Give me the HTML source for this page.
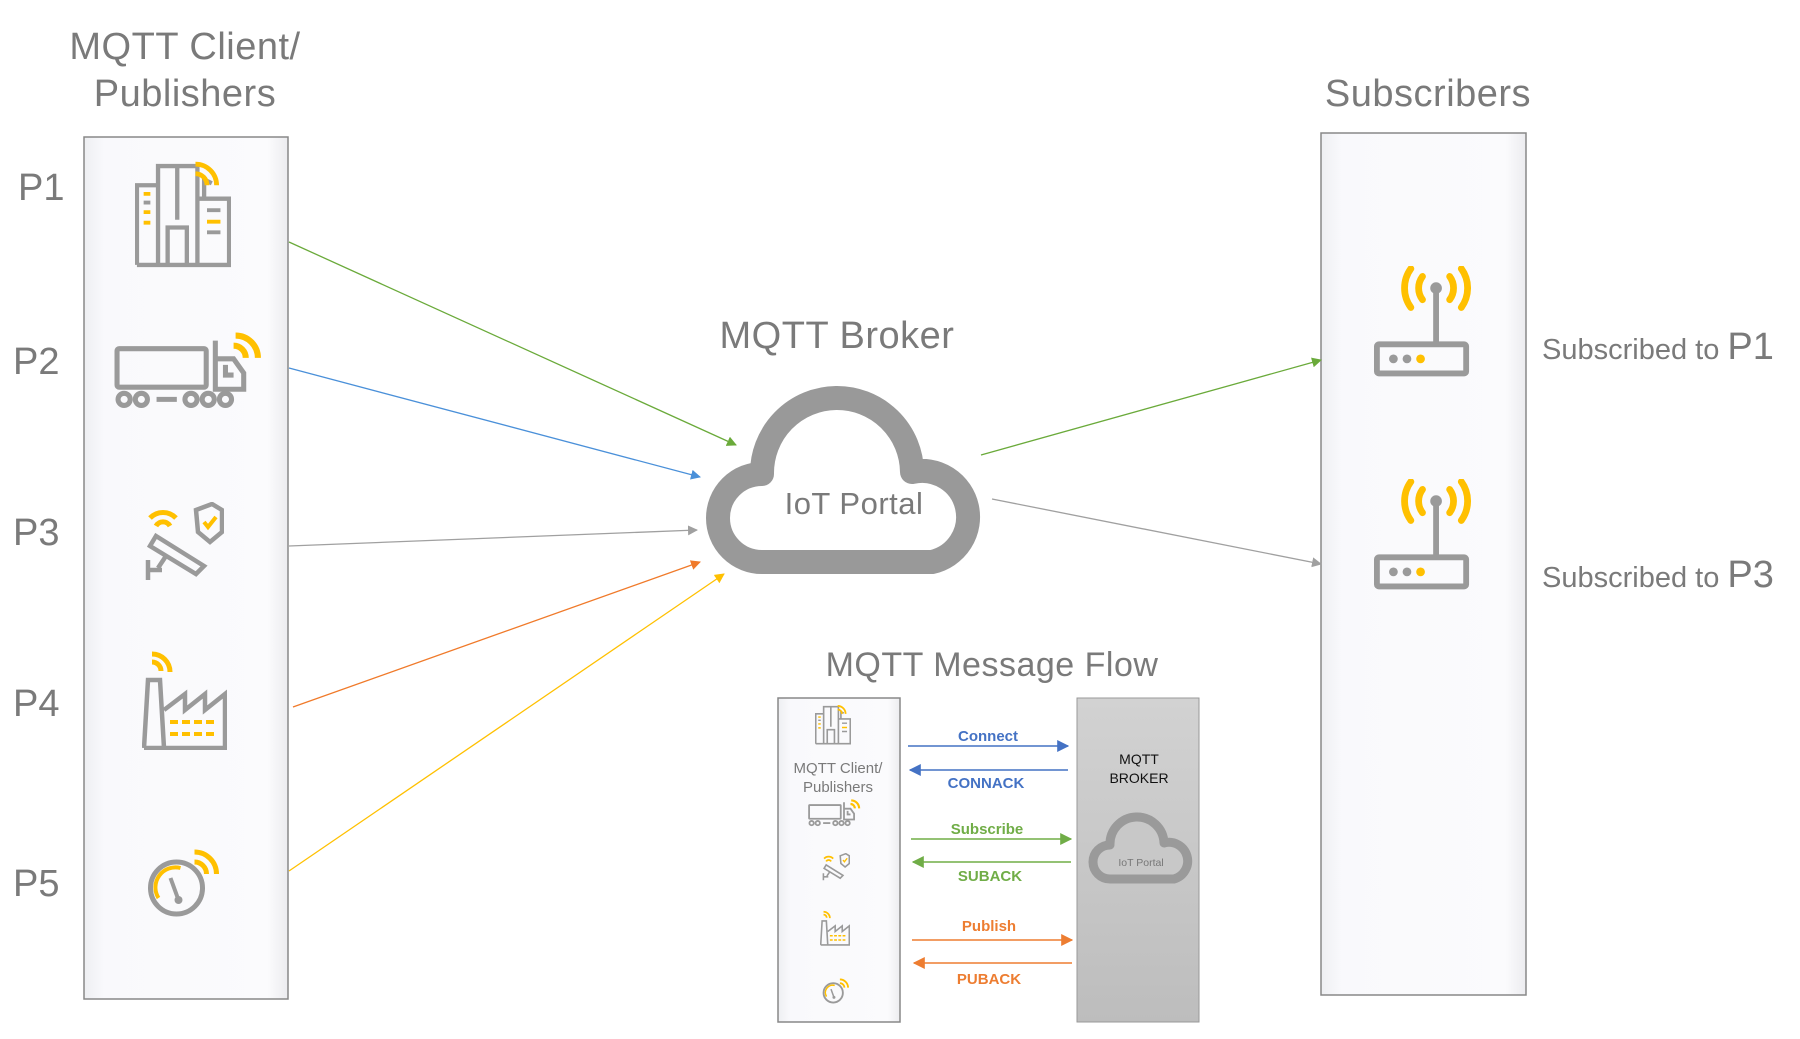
<!DOCTYPE html>
<html><head><meta charset="utf-8"><style>
body{margin:0;background:#fff;}
svg{display:block;font-family:"Liberation Sans",sans-serif;}
</style></head><body>
<svg width="1800" height="1039" viewBox="0 0 1800 1039" xmlns="http://www.w3.org/2000/svg">
<defs>
<linearGradient id="bg" x1="0" x2="1"><stop offset="0" stop-color="#eeeff2"/><stop offset="0.1" stop-color="#f9f9fc"/><stop offset="0.9" stop-color="#fbfbfd"/><stop offset="1" stop-color="#ececef"/></linearGradient>
<linearGradient id="gb" x1="0" y1="0" x2="0" y2="1"><stop offset="0" stop-color="#d2d2d2"/><stop offset="1" stop-color="#bdbdbd"/></linearGradient>
<symbol id="bld" viewBox="0 0 100 110">
 <g fill="none" stroke="#9a9a9a" stroke-width="4.5">
  <path d="M2 107V24H24V107M24 107V4H65V107M44 4V60M34 107V68H54V107M2 107H98V38H65M72 38V18l8 4"/>
 </g>
 <g stroke="#ffc000" stroke-width="4"><path d="M9 33h7M9 52h7M9 63h7M75 62h14"/></g>
 <g stroke="#9a9a9a" stroke-width="4"><path d="M9 42h7M75 50h14M75 73h14"/></g>
 <path d="M63 2a22 22 0 0 1 22 22M63 12a12 12 0 0 1 12 12" fill="none" stroke="#ffc000" stroke-width="5"/>
</symbol>
<symbol id="truck" viewBox="0 0 150 80">
 <g fill="none" stroke="#9a9a9a" stroke-width="5">
  <rect x="3" y="18" width="88" height="38" rx="2"/>
  <path d="M100 10V58H128V42L118 28H100M110 34V44H118"/>
  <circle cx="10" cy="68" r="6"/><circle cx="27" cy="68" r="6"/>
  <path d="M42 68H62"/>
  <circle cx="76" cy="68" r="6"/><circle cx="93" cy="68" r="6"/><circle cx="110" cy="68" r="6"/>
 </g>
 <path d="M120 5a22 22 0 0 1 22 22M118 15a12 12 0 0 1 12 12" fill="none" stroke="#ffc000" stroke-width="6"/>
</symbol>
<symbol id="cam" viewBox="0 0 80 80">
 <g fill="none" stroke="#9a9a9a" stroke-width="4.5">
  <path d="M12 34L60 64L52 72L6 44Z"/><path d="M22 54L14 66M4 58V78M4 68H18"/>
  <path d="M52 8L68 2L78 8V30L66 40L54 30Z"/>
 </g>
 <path d="M60 20l4 5l8-10" fill="none" stroke="#ffc000" stroke-width="4"/>
 <path d="M6 16a18 18 0 0 1 26 0M12 24a8 8 0 0 1 14 0" fill="none" stroke="#ffc000" stroke-width="5"/>
</symbol>
<symbol id="fac" viewBox="0 0 85 100">
 <g fill="none" stroke="#9a9a9a" stroke-width="4.5">
  <path d="M2 98L6 30H18L22 98M2 98H83V44L63 60V44L43 60V44L22 60"/>
 </g>
 <g stroke="#ffc000" stroke-width="4"><path d="M28 72h8M40 72h8M52 72h8M64 72h8M28 84h8M40 84h8M52 84h8M64 84h8"/></g>
 <path d="M10 4a18 18 0 0 1 18 18M10 12a9 9 0 0 1 9 9" fill="none" stroke="#ffc000" stroke-width="5"/>
</symbol>
<symbol id="gau" viewBox="0 0 75 70">
 <circle cx="30" cy="40" r="26" fill="none" stroke="#9a9a9a" stroke-width="5"/>
 <path d="M12 50a20 20 0 0 1 22-30" fill="none" stroke="#ffc000" stroke-width="4"/>
 <path d="M24 30L32 52" stroke="#9a9a9a" stroke-width="4"/><circle cx="32" cy="52" r="4" fill="#9a9a9a"/>
 <path d="M48 4a22 22 0 0 1 22 22M48 14a12 12 0 0 1 12 12" fill="none" stroke="#ffc000" stroke-width="5"/>
</symbol>
<symbol id="rt" viewBox="0 0 100 115">
 <g fill="none" stroke="#9a9a9a" stroke-width="6"><rect x="3" y="80" width="92" height="30" rx="2"/><path d="M64 80V22"/></g>
 <circle cx="64" cy="22" r="6" fill="#9a9a9a"/>
 <circle cx="20" cy="95" r="4.5" fill="#9a9a9a"/><circle cx="34" cy="95" r="4.5" fill="#9a9a9a"/><circle cx="48" cy="95" r="4.5" fill="#ffc000"/>
 <g fill="none" stroke="#ffc000" stroke-width="7" stroke-linecap="round"><path d="M50 10a20 20 0 0 0 0 24M38 2a34 34 0 0 0 0 40M78 10a20 20 0 0 1 0 24M90 2a34 34 0 0 1 0 40"/></g>
</symbol>
<marker id="ag" viewBox="0 0 10 10" refX="9" refY="5" markerWidth="10" markerHeight="10" orient="auto" markerUnits="userSpaceOnUse"><path d="M0 0L10 5L0 10Z" fill="#6aaa3a"/></marker>
<marker id="ab" viewBox="0 0 10 10" refX="9" refY="5" markerWidth="10" markerHeight="10" orient="auto" markerUnits="userSpaceOnUse"><path d="M0 0L10 5L0 10Z" fill="#4a90d9"/></marker>
<marker id="ay" viewBox="0 0 10 10" refX="9" refY="5" markerWidth="10" markerHeight="10" orient="auto" markerUnits="userSpaceOnUse"><path d="M0 0L10 5L0 10Z" fill="#a0a0a0"/></marker>
<marker id="ao" viewBox="0 0 10 10" refX="9" refY="5" markerWidth="10" markerHeight="10" orient="auto" markerUnits="userSpaceOnUse"><path d="M0 0L10 5L0 10Z" fill="#f07a2a"/></marker>
<marker id="aY" viewBox="0 0 10 10" refX="9" refY="5" markerWidth="10" markerHeight="10" orient="auto" markerUnits="userSpaceOnUse"><path d="M0 0L10 5L0 10Z" fill="#ffc000"/></marker>
<marker id="mB" viewBox="0 0 10 10" refX="9" refY="5" markerWidth="12" markerHeight="12" orient="auto" markerUnits="userSpaceOnUse"><path d="M0 0L10 5L0 10Z" fill="#4472c4"/></marker>
<marker id="mG" viewBox="0 0 10 10" refX="9" refY="5" markerWidth="12" markerHeight="12" orient="auto" markerUnits="userSpaceOnUse"><path d="M0 0L10 5L0 10Z" fill="#70ad47"/></marker>
<marker id="mO" viewBox="0 0 10 10" refX="9" refY="5" markerWidth="12" markerHeight="12" orient="auto" markerUnits="userSpaceOnUse"><path d="M0 0L10 5L0 10Z" fill="#ed7d31"/></marker>
</defs>

<g fill="#7a7a7a" font-size="38" text-anchor="middle" letter-spacing="0.5">
<text x="185" y="59">MQTT Client/</text>
<text x="185" y="106">Publishers</text>
<text x="1428" y="106">Subscribers</text>
<text x="837" y="348">MQTT Broker</text>
<text x="992" y="676" font-size="34">MQTT Message Flow</text>
</g>
<g fill="#7a7a7a" font-size="38">
<text x="18" y="200">P1</text><text x="13" y="374">P2</text><text x="13" y="545">P3</text><text x="13" y="716">P4</text><text x="13" y="896">P5</text>
</g>
<text x="1542" y="359" font-size="29" fill="#7a7a7a">Subscribed to <tspan font-size="38">P1</tspan></text>
<text x="1542" y="587" font-size="29" fill="#7a7a7a">Subscribed to <tspan font-size="38">P3</tspan></text>

<rect x="84" y="137" width="204" height="862" fill="url(#bg)" stroke="#888" stroke-width="1.5"/>
<rect x="1321" y="133" width="205" height="862" fill="url(#bg)" stroke="#888" stroke-width="1.5"/>

<use href="#bld" x="135" y="160" width="96" height="110"/>
<use href="#truck" x="114" y="330" width="152" height="82"/>
<use href="#cam" x="144" y="502" width="80" height="80"/>
<use href="#fac" x="142" y="650" width="85" height="100"/>
<use href="#gau" x="146" y="848" width="76" height="70"/>
<use href="#rt" x="1374" y="266" width="97" height="113"/>
<use href="#rt" x="1374" y="479" width="97" height="113"/>

<!-- cloud -->
<path d="M762 562 A44 44 0 0 1 762 474 A75 75 0 0 1 912 472 A46 46 0 0 1 932 562 Z" fill="#fff" stroke="#999" stroke-width="24" stroke-linejoin="round"/>
<text x="854" y="514" font-size="31" fill="#7a7a7a" text-anchor="middle" letter-spacing="0.5">IoT Portal</text>

<g stroke-width="1.3" fill="none">
<line x1="289" y1="242" x2="736" y2="445" stroke="#6aaa3a" marker-end="url(#ag)"/>
<line x1="289" y1="368" x2="700" y2="477" stroke="#4a90d9" marker-end="url(#ab)"/>
<line x1="289" y1="546" x2="697" y2="530" stroke="#a0a0a0" marker-end="url(#ay)"/>
<line x1="293" y1="707" x2="700" y2="562" stroke="#f07a2a" marker-end="url(#ao)"/>
<line x1="289" y1="871" x2="724" y2="574" stroke="#ffc000" marker-end="url(#aY)"/>
<line x1="981" y1="455" x2="1321" y2="360" stroke="#6aaa3a" marker-end="url(#ag)"/>
<line x1="992" y1="499" x2="1321" y2="564" stroke="#a0a0a0" marker-end="url(#ay)"/>
</g>

<!-- mini flow -->
<rect x="778" y="698" width="122" height="324" fill="url(#bg)" stroke="#888" stroke-width="1.5"/>
<rect x="1077" y="698" width="122" height="324" fill="url(#gb)" stroke="#999" stroke-width="1"/>
<use href="#bld" x="815" y="704" width="36" height="42"/>
<text x="838" y="773" font-size="15" fill="#7a7a7a" text-anchor="middle">MQTT Client/</text>
<text x="838" y="792" font-size="15" fill="#7a7a7a" text-anchor="middle">Publishers</text>
<use href="#truck" x="808" y="798" width="54" height="30"/>
<use href="#cam" x="822" y="853" width="28" height="28"/>
<use href="#fac" x="820" y="910" width="30" height="36"/>
<use href="#gau" x="822" y="978" width="28" height="26"/>
<text x="1139" y="764" font-size="14" fill="#111" text-anchor="middle">MQTT</text>
<text x="1139" y="783" font-size="14" fill="#111" text-anchor="middle">BROKER</text>
<path d="M1110 879 A17 17 0 0 1 1110 845 A27 27 0 0 1 1164 843 A18 18 0 0 1 1174 879 Z" fill="#c8c8c8" stroke="#9a9a9a" stroke-width="9" stroke-linejoin="round"/>
<text x="1141" y="866" font-size="10.5" fill="#777" text-anchor="middle">IoT Portal</text>

<g stroke-width="1.5" font-size="15" font-weight="bold" text-anchor="middle">
<line x1="908" y1="746" x2="1068" y2="746" stroke="#4472c4" marker-end="url(#mB)"/>
<line x1="1068" y1="770" x2="910" y2="770" stroke="#4472c4" marker-end="url(#mB)"/>
<text x="988" y="741" fill="#4472c4" stroke="none">Connect</text>
<text x="986" y="788" fill="#4472c4" stroke="none">CONNACK</text>
<line x1="911" y1="839" x2="1071" y2="839" stroke="#70ad47" marker-end="url(#mG)"/>
<line x1="1071" y1="862" x2="913" y2="862" stroke="#70ad47" marker-end="url(#mG)"/>
<text x="987" y="834" fill="#70ad47" stroke="none">Subscribe</text>
<text x="990" y="881" fill="#70ad47" stroke="none">SUBACK</text>
<line x1="912" y1="940" x2="1072" y2="940" stroke="#ed7d31" marker-end="url(#mO)"/>
<line x1="1072" y1="963" x2="914" y2="963" stroke="#ed7d31" marker-end="url(#mO)"/>
<text x="989" y="931" fill="#ed7d31" stroke="none">Publish</text>
<text x="989" y="984" fill="#ed7d31" stroke="none">PUBACK</text>
</g>
</svg>
</body></html>
